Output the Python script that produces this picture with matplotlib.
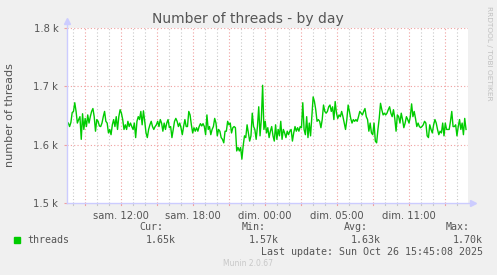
import numpy as np
import matplotlib
matplotlib.use("Agg")
import matplotlib.pyplot as plt

# hours relative to sam. 12:00 (real elapsed time, DST change on the night)
t_start = -4.475
t_end = 28.78

threads = [
    1639, 1637, 1631, 1638, 1655, 1657, 1672, 1657, 1637, 1643, 1648, 1609, 1653, 1626,
    1645, 1631, 1651, 1637, 1648, 1657, 1662, 1648, 1623, 1643, 1640, 1632, 1631, 1637,
    1648, 1657, 1640, 1637, 1620, 1626, 1617, 1634, 1643, 1631, 1648, 1626, 1648, 1660,
    1654, 1643, 1626, 1634, 1626, 1640, 1631, 1637,
    1631, 1626, 1637, 1612, 1640, 1648, 1643, 1657, 1634, 1658, 1640, 1620, 1612, 1626,
    1634, 1640, 1631, 1626, 1631, 1634, 1640, 1631, 1643, 1637, 1623, 1637, 1626, 1637,
    1643, 1629, 1631, 1612, 1626, 1640, 1645, 1640, 1631, 1637, 1629, 1617, 1631, 1643,
    1631, 1631, 1657, 1651, 1634, 1620, 1629, 1623, 1629, 1623,
    1631, 1636, 1632, 1636, 1631, 1617, 1651, 1626, 1631, 1617, 1626, 1631, 1645, 1637,
    1615, 1626, 1623, 1612, 1609, 1603, 1623, 1623, 1640, 1634, 1637, 1620, 1629, 1631,
    1629, 1589, 1595, 1589, 1595, 1575, 1598, 1615, 1612, 1634, 1620, 1606, 1615, 1654,
    1631, 1626, 1609, 1631, 1665, 1615, 1643, 1702, 1626, 1640, 1620, 1629, 1612,
    1623, 1631, 1615, 1606, 1634, 1609, 1626, 1615, 1640, 1609, 1626, 1620, 1612, 1623,
    1617, 1623, 1626, 1606, 1620, 1631, 1623, 1629, 1623, 1631, 1629, 1672, 1626, 1617,
    1648, 1612, 1637, 1615, 1648, 1682, 1674, 1660, 1640, 1643, 1640, 1629, 1643, 1668,
    1657, 1654, 1657, 1665, 1668, 1657, 1665, 1643, 1674, 1654,
    1645, 1651, 1648, 1657, 1648, 1637, 1626, 1643, 1668, 1657, 1645, 1637, 1643, 1640,
    1643, 1640, 1648, 1657, 1654, 1651, 1657, 1662, 1648, 1643, 1623, 1637, 1620, 1617,
    1637, 1606, 1603, 1626, 1645, 1671, 1660, 1651, 1654, 1651, 1654, 1660, 1665, 1654,
    1648, 1660, 1645, 1623, 1651, 1648, 1637, 1654, 1643, 1629, 1637,
    1648, 1643, 1637, 1648, 1670, 1648, 1657, 1645, 1631, 1637, 1631, 1629, 1631, 1634,
    1640, 1637, 1615, 1612, 1634, 1626, 1620, 1634, 1643, 1637, 1626, 1617, 1623, 1620,
    1637, 1615, 1637, 1626, 1626, 1626, 1640, 1657, 1631, 1631, 1634, 1615, 1631, 1643,
    1626, 1637, 1617, 1645, 1626,
]

tick_pos = [0, 6, 12, 18, 24]
tick_labels = ["sam. 12:00", "sam. 18:00", "dim. 00:00", "dim. 05:00", "dim. 11:00"]
y_ticks = [1500, 1600, 1700, 1800]
y_labels = ["1.5 k", "1.6 k", "1.7 k", "1.8 k"]

stats = [("Cur:", "1.65k"), ("Min:", "1.57k"), ("Avg:", "1.63k"), ("Max:", "1.70k")]

W, H = 497, 275
bg = "#f0f0f0"
txt = "#555555"
axis_col = "#ccccff"

fig = plt.figure(figsize=(W / 100, H / 100), dpi=100, facecolor=bg)
ax = fig.add_axes([66.7 / W, 1 - 202.7 / H, 401 / W, (202.7 - 28.3) / H])
ax.set_facecolor("white")

t = np.linspace(t_start, t_end, len(threads))
ax.plot(t, threads, color="#00cc00", lw=1, zorder=3)

ax.set_xlim(-4.5, 28.92)
ax.set_ylim(1500, 1800)

# grid: red every 3h, grey every hour
for h in range(-4, 29):
    major = h % 3 == 0
    ax.axvline(h, color="#f0a0a0" if major else "#c8c8c8", lw=0.8,
               ls=(0, (1, 2)), zorder=1)
    ax.plot([h, h], [0, -0.015], transform=ax.get_xaxis_transform(),
            color="#f0a0a0" if major else "#c8c8c8", lw=0.8, clip_on=False)
for v in y_ticks[1:]:
    ax.axhline(v, color="#f0a0a0", lw=0.8, ls=(0, (1, 2)), zorder=1)

for s in ax.spines.values():
    s.set_visible(False)
ax.plot([0, 0], [0, 1.04], transform=ax.transAxes, color=axis_col, lw=1,
        clip_on=False, zorder=4)
ax.plot([0, 1.012], [0, 0], transform=ax.transAxes, color=axis_col, lw=1,
        clip_on=False, zorder=4)
ax.plot([0], [1.04], marker="^", ms=5, color=axis_col, transform=ax.transAxes,
        clip_on=False)
ax.plot([1.012], [0], marker=">", ms=5, color=axis_col, transform=ax.transAxes,
        clip_on=False)

ax.set_xticks(tick_pos)
ax.set_xticklabels(tick_labels)
ax.set_yticks(y_ticks)
ax.set_yticklabels(y_labels)
ax.tick_params(axis="x", length=0, labelsize=7.2, labelcolor=txt, pad=6)
ax.tick_params(axis="y", length=2, color="#f0a0a0", labelsize=7.2,
               labelcolor=txt, pad=4)

fig.text(248 / W, 1 - 19 / H, "Number of threads - by day", ha="center",
         va="center", fontsize=10, color=txt)
fig.text(10 / W, 1 - 115 / H, "number of threads", rotation=90, ha="center",
         va="center", fontsize=8, color=txt)
fig.text(489 / W, 1 - 6 / H, "RRDTOOL / TOBI OETIKER", rotation=270, ha="center",
         va="top", fontsize=5.3, color="#c0c0c0")

mono = "DejaVu Sans Mono"
fig.patches.append(plt.Rectangle((14 / W, 1 - 243 / H), 6 / W, 6 / H,
                                 transform=fig.transFigure, color="#00cc00"))
fig.text(27 / W, 1 - 240 / H, "threads", family=mono, fontsize=7.2, color=txt,
         va="center")
col_right = [176, 279, 381, 483]
for (name, val), xr in zip(stats, col_right):
    fig.text((xr - 13) / W, 1 - 227 / H, name, family=mono, fontsize=7.2,
             color=txt, va="center", ha="right")
    fig.text(xr / W, 1 - 240 / H, val, family=mono, fontsize=7.2, color=txt,
             va="center", ha="right")
fig.text(483 / W, 1 - 252 / H, "Last update: Sun Oct 26 15:45:08 2025",
         family=mono, fontsize=7.2, color=txt, va="center", ha="right")
fig.text(248 / W, 1 - 264 / H, "Munin 2.0.67", fontsize=5.5, color="#c8c8c8",
         va="center", ha="center")

fig.savefig("out.png", dpi=100, facecolor=bg)
